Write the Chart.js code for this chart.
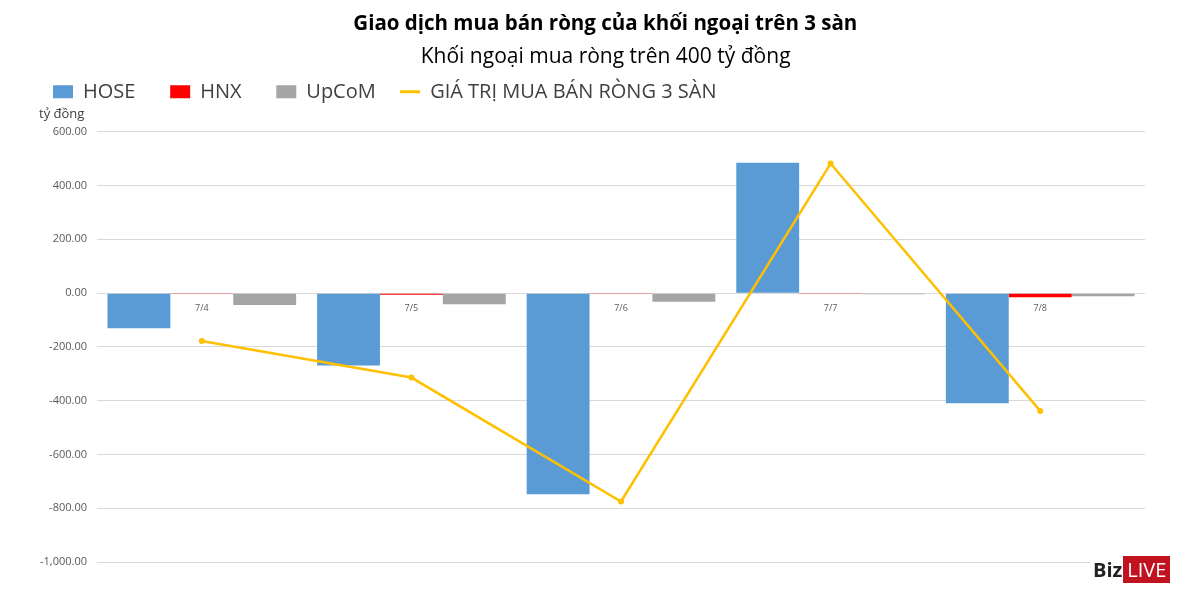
<!DOCTYPE html>
<html>
<head>
<meta charset="utf-8">
<script src="https://cdn.jsdelivr.net/npm/chart.js@4.4.0/dist/chart.umd.min.js"></script>
<style>
  body { margin: 0; background: #fff; }
  #wrap { position: relative; width: 1200px; height: 594px; }
  #unit { position: absolute; left: 39px; top: 104px; font: 13px "Open Sans", sans-serif; color: #404040; }
  #logo { position: absolute; left: 1090px; top: 559px; background: #fff; padding: 1px 3px; font: bold 20px "Open Sans", sans-serif; line-height: 20px; color: #222; }
  #logo span { background: #c1121f; color: #fff; font-weight: normal; padding: 0 4px; margin-left: 1px; }
</style>
</head>
<body>
<div id="wrap">
  <canvas id="chart" width="1200" height="594"></canvas>
  <div id="unit">tỷ đồng</div>
  <div id="logo">Biz<span>LIVE</span></div>
</div>
<script>
var categories = ['7/4', '7/5', '7/6', '7/7', '7/8'];
var hose = [-131, -269, -748, 485, -410];
var hnx = [-3, -6, -3, -3, -15];
var upcom = [-44, -41, -32, -4, -12];
var total = [-178, -314, -775, 482, -438];

var fmt = function (v) {
    return v.toLocaleString('en-US', { minimumFractionDigits: 2, maximumFractionDigits: 2 });
};

// extra room under the legend so the plot starts lower
var legendSpace = {
    id: 'legendSpace',
    beforeInit: function (chart) {
        var fit = chart.legend.fit;
        chart.legend.fit = function () {
            fit.bind(chart.legend)();
            this.height += 20;
        };
    }
};

var nb = '\u00a0';

var ctx = document.getElementById('chart').getContext('2d');
var chart = new Chart(ctx, {
    data: {
        labels: categories,
        datasets: [
            { type: 'line', label: 'GIÁ TRỊ MUA BÁN RÒNG 3 SÀN', data: total, borderColor: '#FFC000', backgroundColor: '#FFC000',
              borderWidth: 2.5, pointRadius: 3, pointBackgroundColor: '#FFC000', pointBorderWidth: 0, tension: 0, order: 0 },
            { type: 'bar', label: 'HOSE', data: hose, backgroundColor: '#5B9BD5', order: 1 },
            { type: 'bar', label: 'HNX', data: hnx, backgroundColor: '#FF0000', order: 1 },
            { type: 'bar', label: 'UpCoM', data: upcom, backgroundColor: '#A5A5A5', order: 1 }
        ]
    },
    options: {
        responsive: false,
        animation: false,
        layout: { padding: { left: 39, right: 55, bottom: 32, top: 0 } },
        datasets: { bar: { categoryPercentage: 0.9, barPercentage: 1.0 } },
        plugins: {
            title: {
                display: true,
                text: nb.repeat(5) + 'Giao dịch mua bán ròng của khối ngoại trên 3 sàn',
                font: { family: 'Open Sans', size: 20.5, weight: 'bold' },
                color: '#000',
                padding: { top: 12, bottom: 4 }
            },
            subtitle: {
                display: true,
                text: nb.repeat(5) + 'Khối ngoại mua ròng trên 400 tỷ đồng',
                font: { family: 'Open Sans', size: 21 },
                color: '#000',
                padding: { top: 4, bottom: -2 }
            },
            legend: {
                align: 'start',
                labels: {
                    font: { family: 'Open Sans', size: 20 },
                    color: '#404040',
                    usePointStyle: true,
                    pointStyleWidth: 20,
                    boxHeight: 13,
                    padding: 14,
                    sort: function (a, b) { return (a.datasetIndex === 0 ? 9 : a.datasetIndex) - (b.datasetIndex === 0 ? 9 : b.datasetIndex); },
                    generateLabels: function (c) {
                        var items = Chart.defaults.plugins.legend.labels.generateLabels(c);
                        items.forEach(function (it) {
                            if (it.datasetIndex === 0) {
                                it.pointStyle = 'line';
                                it.strokeStyle = '#FFC000';
                                it.lineWidth = 3;
                            } else {
                                it.pointStyle = 'rect';
                                it.lineWidth = 0;
                                it.text = it.text + nb.repeat(it.datasetIndex === 3 ? 2 : 4);
                            }
                        });
                        return items;
                    }
                }
            },
            tooltip: { enabled: false }
        },
        scales: {
            x: {
                position: { y: 0 },
                grid: { display: false },
                border: { display: false },
                ticks: { font: { family: 'Open Sans', size: 9 }, color: '#595959', padding: 2 }
            },
            y: {
                min: -1000,
                max: 600,
                afterFit: function (scale) { scale.width = 58; },
                ticks: { stepSize: 200, font: { family: 'Open Sans', size: 11 }, color: '#595959', padding: 10,
                         callback: function (v) { return fmt(v); } },
                grid: { color: '#d9d9d9', drawTicks: false },
                border: { display: false }
            }
        }
    },
    plugins: [legendSpace]
});
</script>
</body>
</html>
